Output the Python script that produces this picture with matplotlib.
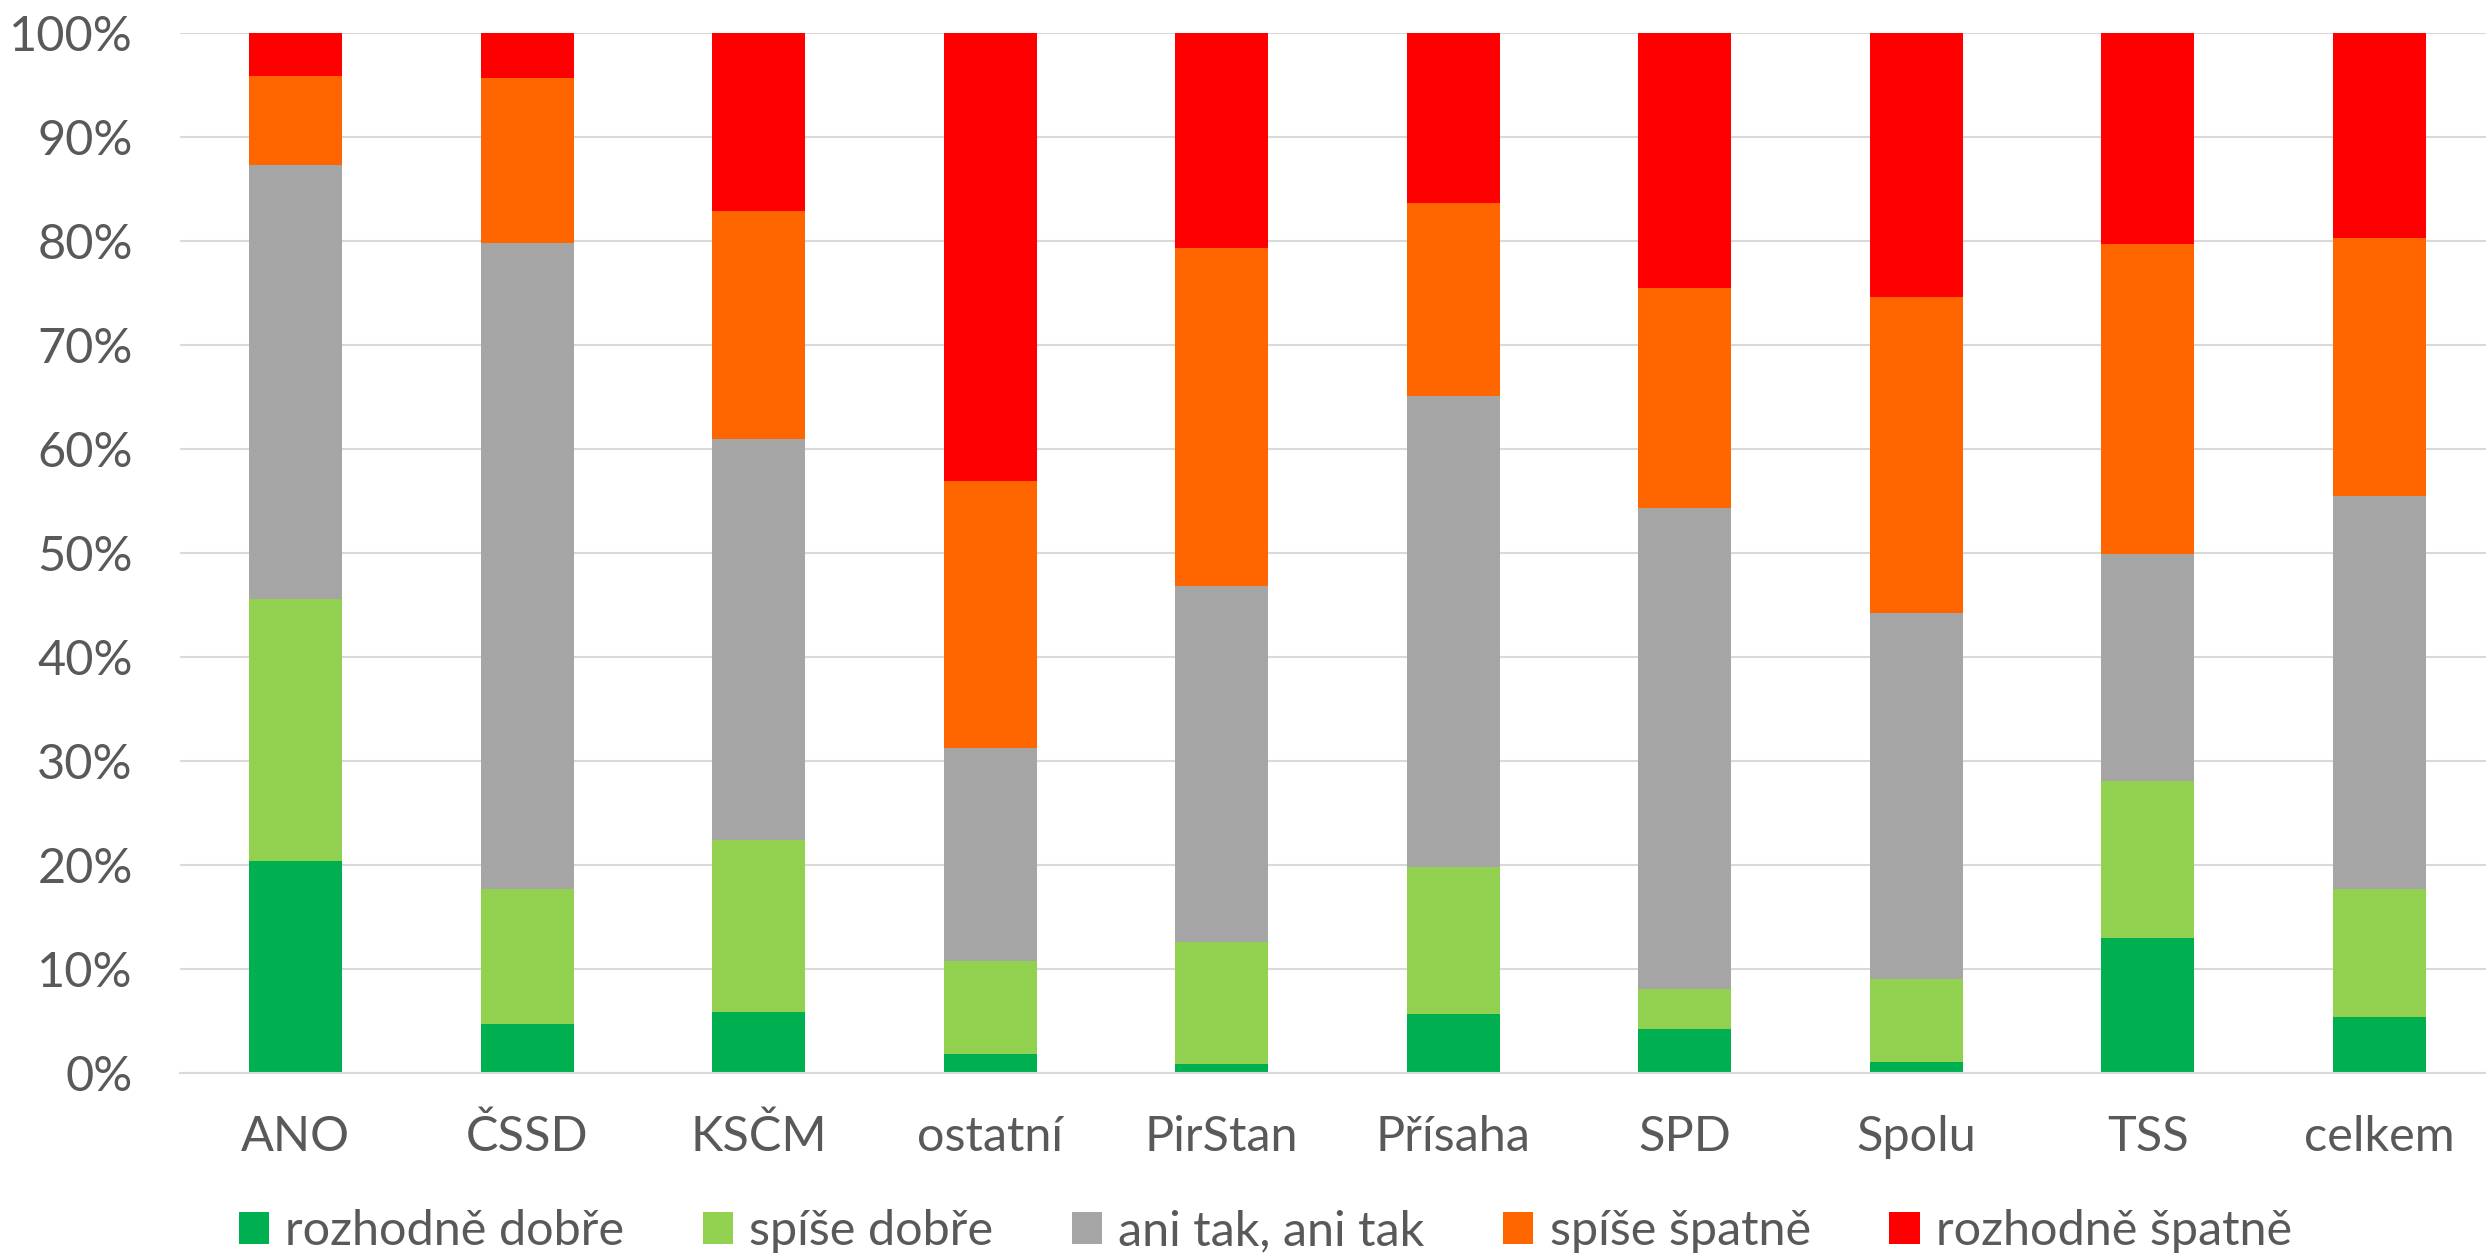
import numpy as np
import matplotlib
matplotlib.use("Agg")
import matplotlib.pyplot as plt
from matplotlib.ticker import PercentFormatter

# Categories (parties) and answer shares in percent
strany = ["ANO", "ČSSD", "KSČM", "ostatní", "PirStan", "Přísaha", "SPD", "Spolu", "TSS", "celkem"]
rozhodne_dobre = [20.4, 4.7, 5.9, 1.8, 0.9, 5.7, 4.2, 1.1, 13.0, 5.4]
spise_dobre = [25.2, 13.0, 16.5, 9.0, 11.7, 14.1, 3.9, 7.9, 15.1, 12.3]
ani_tak = [41.7, 62.1, 38.5, 20.4, 34.2, 45.3, 46.2, 35.2, 21.8, 37.8]
spise_spatne = [8.5, 15.8, 22.0, 25.7, 32.5, 18.5, 21.2, 30.4, 29.8, 24.8]
rozhodne_spatne = [4.2, 4.4, 17.1, 43.1, 20.7, 16.4, 24.5, 25.4, 20.3, 19.7]

nazvy = ["rozhodně dobře", "spíše dobře", "ani tak, ani tak", "spíše špatně", "rozhodně špatně"]
barvy = ["#00B050", "#92D050", "#A5A5A5", "#FF6600", "#FF0000"]

plt.rcParams['font.family'] = ['Lato', 'DejaVu Sans']
text_color = "#595959"
fs = 35

fig = plt.figure(figsize=(24.86, 12.55), dpi=100)
ax = fig.add_axes([0.0724, 0.145, 1.0036 - 0.0724, 0.974 - 0.145])

x = np.arange(len(strany))
bottom = np.zeros(len(strany))
for vals, name, col in zip([rozhodne_dobre, spise_dobre, ani_tak, spise_spatne, rozhodne_spatne], nazvy, barvy):
    vals = np.array(vals)
    ax.bar(x, vals, width=0.4, bottom=bottom, color=col, label=name, zorder=2)
    bottom += vals

ax.set_xlim(-0.5, len(strany) - 0.5)
ax.set_ylim(0, 100)
ax.set_yticks(np.arange(0, 101, 10))
ax.yaxis.set_major_formatter(PercentFormatter(decimals=0))
ax.set_xticks(x)
ax.set_xticklabels(strany)

# gridlines + axis styling
ax.grid(axis='y', color="#D9D9D9", linewidth=1.5, zorder=0)
for s in ['top', 'right', 'left']:
    ax.spines[s].set_visible(False)
ax.spines['bottom'].set_color("#D9D9D9")
ax.spines['bottom'].set_linewidth(1.5)
ax.tick_params(axis='both', length=0, labelsize=fs, colors=text_color)
ax.tick_params(axis='y', pad=34)
ax.tick_params(axis='x', pad=30)

leg = fig.legend(loc='center', bbox_to_anchor=(0.509, 0.019), ncol=5, frameon=False,
                 fontsize=fs, handlelength=0.62, handleheight=0.62, handletextpad=0.33,
                 columnspacing=1.62, borderpad=0)
for t in leg.get_texts():
    t.set_color(text_color)

fig.savefig("out.png", dpi=100)
